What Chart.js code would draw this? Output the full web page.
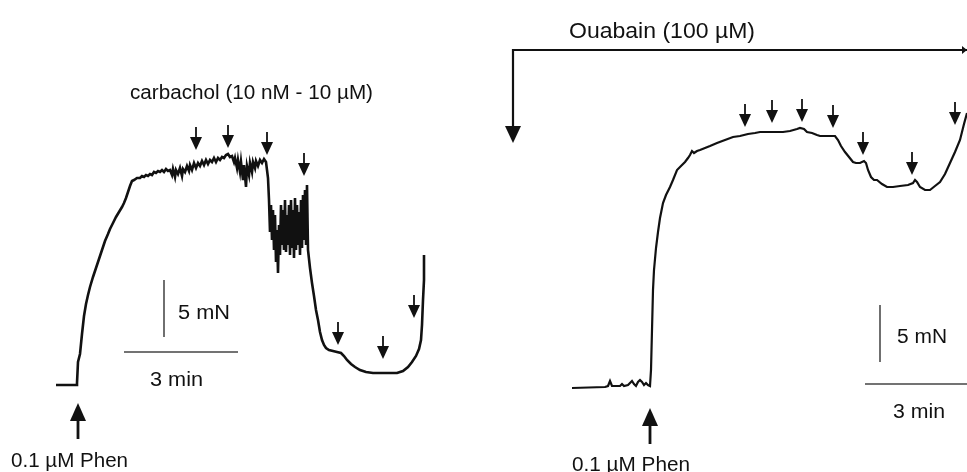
<!DOCTYPE html>
<html>
<head>
<meta charset="utf-8">
<script src="https://cdn.jsdelivr.net/npm/chart.js@4.4.1/dist/chart.umd.min.js"></script>
<style>
  html, body { margin: 0; padding: 0; background: #ffffff; }
  #wrap { width: 967px; height: 472px; }
</style>
</head>
<body>
<div id="wrap"><canvas id="c" width="967" height="472"></canvas></div>
<script>
// ---- Data (trace coordinates in recording units: x = time axis, y = tension axis, top-down) ----
const leftTrace = [
  [56,385],[77,385],[77,383],[78,362],[80,354],[82,334],[84,316],[86,304],[88,295],[90,287],[93,277],[96,268],
  [99,259],[102,250],[105,241],[108,234],[110,229],[113,223],[116,217],[119,212],[122,207],[124,203],[126,198],
  [128,192],[130,186],[132,181],[134,180],[137,178],[140,178],[142,176],[144,177],[146,175],[148,176],[150,174],
  [152,175],[154,172],[156,173],[158,171],[160,172],[162,170],[164,172],[166,169],[168,171],[170,170],[172,175],
  [173,169],[175,177],[176,170],[178,174],[180,168],[182,176],[183,169],[185,172],[187,166],[189,171],[190,165],
  [192,170],[194,163],[196,168],[198,163],[200,166],[202,161],[204,165],[206,160],[208,164],[210,160],[212,162],
  [214,158],[216,162],[218,158],[220,160],[222,157],[224,158],[226,155],[228,154],[230,157],[232,156],[234,162],
  [235,158],[237,168],[238,160],[240,172],[241,162],[243,180],[244,165],[246,187],[247,166],[249,175],[250,163],
  [252,172],[253,162],[255,168],[256,161],[258,166],[260,160],[262,163],[264,159],[266,162],[267,170],[268,178],
  [269,200],[270,232],[271,205],[272,240],[273,210],[274,250],[275,215],[276,262],[277,230],[278,273],[279,225],
  [280,255],[281,205],[282,245],[283,210],[284,250],[285,200],[286,252],[287,215],[288,245],[289,205],[290,255],
  [291,200],[292,248],[293,210],[294,258],[295,198],[296,250],[297,205],[298,245],[299,212],[300,255],[301,200],
  [302,248],[303,195],[304,240],[305,190],[306,245],[307,185],[308,250],[310,268],[312,283],[314,296],[316,310],
  [318,320],[320,332],[322,340],[324,345],[326,348],[329,350],[333,351],[337,352],[341,353],[344,356],[347,360],
  [351,364],[355,367],[360,370],[366,372],[373,373],[385,373],[397,373],[403,371],[408,367],[412,362],[416,356],
  [419,349],[421,340],[422,325],[423,300],[424,280],[424,255]
];
const rightTrace = [
  [572,388],[605,387],[608,386],[610,381],[612,386],[620,386],[622,384],[624,386],[628,385],[630,383],[632,381],
  [634,384],[636,386],[638,382],[640,380],[642,382],[644,385],[646,383],[648,385],[650,386],[651,370],[652,330],
  [653,290],[654,270],[656,248],[658,232],[660,218],[663,203],[666,195],[670,187],[673,180],[677,170],[681,166],
  [685,162],[688,158],[690,155],[692,151],[694,153],[697,151],[700,150],[705,148],[710,146],[717,143],[725,140],
  [733,137],[740,136],[748,134],[755,133],[760,132],[770,132],[783,132],[790,131],[797,129],[800,128],[804,129],
  [807,132],[812,133],[817,135],[820,136],[828,136],[835,136],[838,140],[841,146],[845,152],[849,157],[853,162],
  [856,163],[860,163],[864,161],[866,163],[868,170],[871,177],[874,180],[877,180],[882,184],[887,187],[893,187],
  [900,186],[908,185],[913,183],[915,180],[917,182],[920,187],[925,190],[930,190],[935,186],[940,182],[945,174],
  [950,163],[955,152],[960,140],[964,124],[967,113]
];
// Drug-addition arrows: x = time of addition, tip = level of arrow tip
const leftArrowX   = [196, 228, 267, 304, 338, 383, 414];
const leftArrowTip = [150, 148, 155, 176, 345, 359, 318];
const rightArrowX   = [745, 772, 802, 833, 863, 912, 955];
const rightArrowTip = [127, 123, 122, 128, 155, 175, 125];
const phenArrowX   = [78, 650];
const phenArrowTip = [403, 408];
// Labels
const labelTexts = ["carbachol (10 nM - 10 µM)", "Ouabain (100 µM)", "0.1 µM Phen", "0.1 µM Phen", "5 mN", "3 min", "5 mN", "3 min"];

// ---- Drawing ----
const toPts = a => a.map(p => ({x: p[0], y: p[1]}));

const overlay = {
  id: 'overlay',
  afterDatasetsDraw(chart) {
    const ctx = chart.ctx, xs = chart.scales.x, ys = chart.scales.y;
    const X = v => xs.getPixelForValue(v), Y = v => ys.getPixelForValue(v);
    ctx.save();
    ctx.fillStyle = '#111';
    ctx.strokeStyle = '#111';
    ctx.lineCap = 'butt';

    function arrow(x, tipY, tailY, headW, headH, lw) {
      const dir = tailY < tipY ? 1 : -1; // 1 = pointing down
      ctx.lineWidth = lw;
      ctx.beginPath();
      ctx.moveTo(X(x), Y(tailY));
      ctx.lineTo(X(x), Y(tipY) - dir * headH * 0.8);
      ctx.stroke();
      ctx.beginPath();
      ctx.moveTo(X(x), Y(tipY));
      ctx.lineTo(X(x) - headW / 2, Y(tipY) - dir * headH);
      ctx.lineTo(X(x) + headW / 2, Y(tipY) - dir * headH);
      ctx.closePath();
      ctx.fill();
    }
    leftArrowX.forEach((x, i) => arrow(x, leftArrowTip[i], leftArrowTip[i] - 23, 12, 13, 1.8));
    rightArrowX.forEach((x, i) => arrow(x, rightArrowTip[i], rightArrowTip[i] - 23, 12, 13, 1.8));
    phenArrowX.forEach((x, i) => arrow(x, phenArrowTip[i], phenArrowTip[i] + 36, 16, 18, 2.8));

    // Ouabain bracket
    ctx.lineWidth = 2.2;
    ctx.beginPath();
    ctx.moveTo(X(967), Y(50));
    ctx.lineTo(X(513), Y(50));
    ctx.lineTo(X(513), Y(130));
    ctx.stroke();
    arrow(513, 143, 128, 16, 17, 2.2);
    ctx.beginPath();
    ctx.moveTo(X(967), Y(50));
    ctx.lineTo(X(962), Y(46));
    ctx.lineTo(X(962), Y(54));
    ctx.closePath();
    ctx.fill();

    // Scale bars
    ctx.lineWidth = 1.3;
    ctx.strokeStyle = '#222';
    ctx.beginPath(); ctx.moveTo(X(164), Y(280)); ctx.lineTo(X(164), Y(337)); ctx.stroke();
    ctx.beginPath(); ctx.moveTo(X(880), Y(305)); ctx.lineTo(X(880), Y(362)); ctx.stroke();
    ctx.strokeStyle = '#444';
    ctx.beginPath(); ctx.moveTo(X(124), Y(352)); ctx.lineTo(X(238), Y(352)); ctx.stroke();
    ctx.beginPath(); ctx.moveTo(X(865), Y(384)); ctx.lineTo(X(967), Y(384)); ctx.stroke();

    // Text
    const pos = [
      [130, 99, 243, 20], [569, 38, 186, 22], [11, 467, 117, 20], [572, 471, 118, 20],
      [178, 319, 52, 20], [150, 386, 53, 20], [897, 343, 50, 20], [893, 418, 52, 20]
    ];
    ctx.fillStyle = '#111';
    ctx.textBaseline = 'alphabetic';
    labelTexts.forEach((t, i) => {
      const [x, y, w, fs] = pos[i];
      ctx.font = fs + 'px "Liberation Sans", Arial, sans-serif';
      const m = ctx.measureText(t).width;
      ctx.save();
      ctx.translate(X(x), Y(y));
      ctx.scale(w / m, 1);
      ctx.fillText(t, 0, 0);
      ctx.restore();
    });
    ctx.restore();
  }
};

new Chart(document.getElementById('c'), {
  type: 'scatter',
  data: {
    datasets: [
      { data: toPts(leftTrace), showLine: true, borderColor: '#111', borderWidth: 2.6, pointRadius: 0, tension: 0, clip: false },
      { data: toPts(rightTrace), showLine: true, borderColor: '#111', borderWidth: 2.2, pointRadius: 0, tension: 0, clip: false }
    ]
  },
  options: {
    responsive: false,
    animation: false,
    layout: { padding: 0 },
    plugins: { legend: { display: false }, tooltip: { enabled: false } },
    scales: {
      x: { type: 'linear', min: 0, max: 967, display: false },
      y: { type: 'linear', min: 0, max: 472, reverse: true, display: false }
    }
  },
  plugins: [overlay]
});
</script>
</body>
</html>
